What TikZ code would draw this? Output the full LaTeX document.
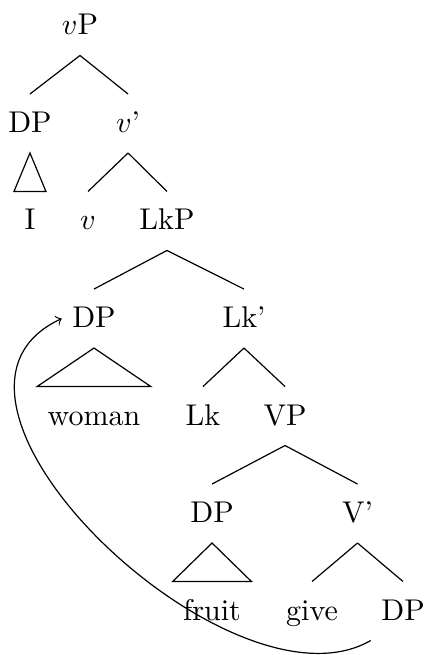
\documentclass[tikz,border=0pt]{standalone}
\usepackage{amsmath,amsfonts,amssymb}
\usepackage{tikz}

\begin{document}
\begin{tikzpicture}[tn/.style={anchor=base,text height=9.3pt,text depth=3.3pt,inner sep=3.33pt}]
\useasboundingbox (0,0) rectangle (4.991,-7.673);
\node[tn] (lvp) at (0.937,-0.41) {$v$P};
\node[tn] (dp-1) at (0.351,-1.552) {DP};
\node[tn] (vb) at (1.50,-1.552) {$v$'};
\node[tn] (i) at (0.351,-2.694) {I};
\node[tn] (v) at (1.031,-2.694) {$v$};
\node[tn] (lkp) at (1.956,-2.694) {LkP};
\node[tn] (dp-2) at (1.101,-3.837) {DP};
\node[tn] (lkb) at (2.858,-3.837) {Lk'};
\node[tn] (woman) at (1.101,-4.979) {woman};
\node[tn] (lk) at (2.378,-4.979) {Lk};
\node[tn] (vp) at (3.339,-4.979) {VP};
\node[tn] (dp-3) at (2.484,-6.121) {DP};
\node[tn] (vbar) at (4.188,-6.121) {V'};
\node[tn] (fruit) at (2.484,-7.263) {fruit};
\node[tn] (give) at (3.655,-7.263) {give};
\node[tn] (dp-4) at (4.721,-7.263) {DP};

\foreach \a/\b in {lvp/dp-1,lvp/vb,vb/v,vb/lkp,lkp/dp-2,lkp/lkb,lkb/lk,lkb/vp,vp/dp-3,vp/vbar,vbar/give,vbar/dp-4}
    \draw (\a.south) -- (\b.north);
\foreach \a/\b in {dp-1/i,dp-2/woman,dp-3/fruit}
    \draw (\a.south) -- (\b.north west) -- (\b.north east) -- cycle;

\draw[->] (dp-4.south west) .. controls +(210:1.9) and +(205:2.2) .. (dp-2.west);
\end{tikzpicture}
\end{document}
